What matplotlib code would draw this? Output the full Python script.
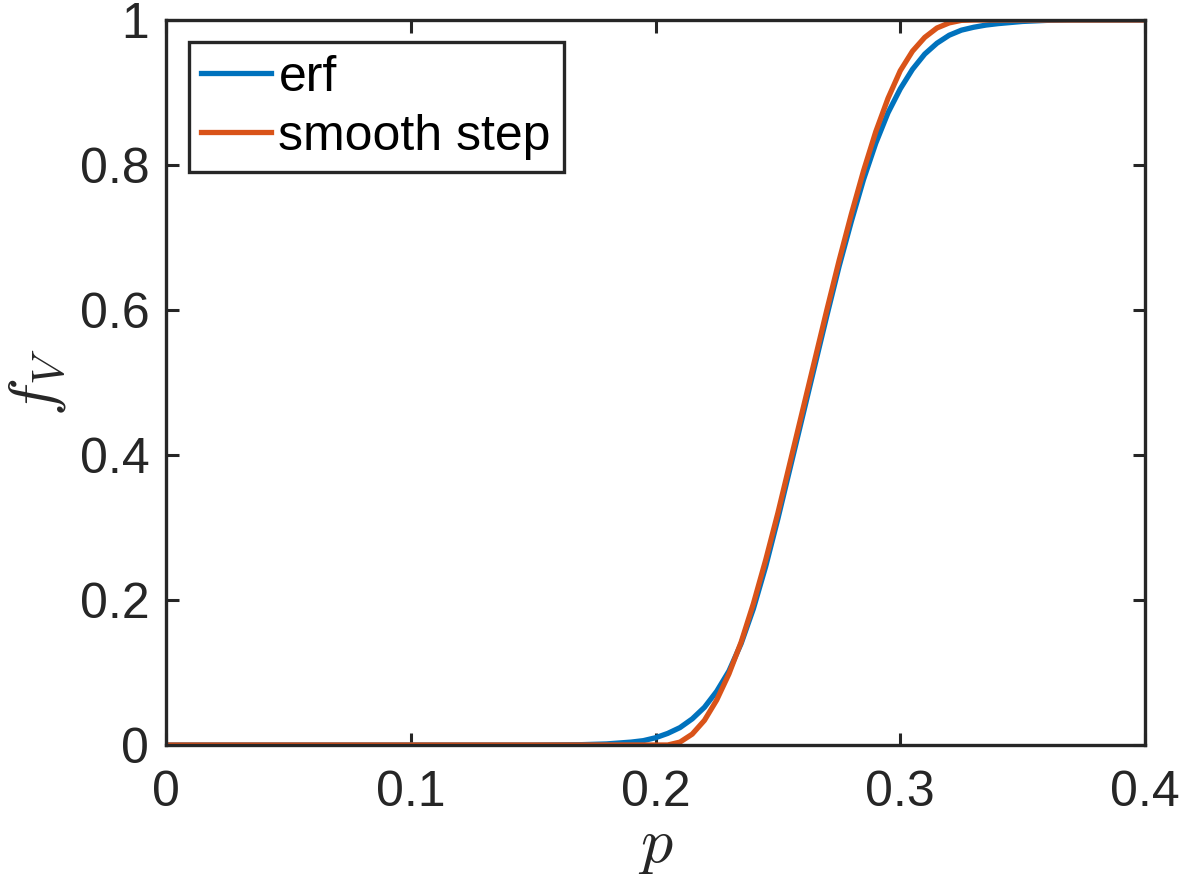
import matplotlib
matplotlib.use("Agg")
import matplotlib.pyplot as plt
from matplotlib.ticker import FuncFormatter

plt.rcParams['font.family'] = ['Liberation Sans', 'DejaVu Sans']
plt.rcParams['mathtext.fontset'] = 'cm'

# values
p_erf = [0.0, 0.15, 0.17, 0.18, 0.19, 0.195, 0.2, 0.205, 0.21, 0.215, 0.22, 0.225,
         0.23, 0.235, 0.24, 0.245, 0.25, 0.255, 0.26, 0.265, 0.27, 0.275, 0.28,
         0.285, 0.29, 0.295, 0.3, 0.305, 0.31, 0.315, 0.32, 0.325, 0.33, 0.335,
         0.34, 0.35, 0.36, 0.37, 0.4]
f_erf = [0.0, 0.0, 0.0005, 0.0015, 0.004, 0.006, 0.010, 0.016, 0.024, 0.036, 0.052,
         0.074, 0.102, 0.140, 0.188, 0.246, 0.312, 0.382, 0.452, 0.522, 0.592,
         0.660, 0.722, 0.780, 0.830, 0.872, 0.905, 0.932, 0.953, 0.968, 0.979,
         0.986, 0.990, 0.993, 0.995, 0.998, 0.9995, 1.0, 1.0]

p_step = [0.0, 0.205, 0.21, 0.215, 0.22, 0.225, 0.23, 0.235, 0.24, 0.245, 0.25,
          0.255, 0.26, 0.265, 0.27, 0.275, 0.28, 0.285, 0.29, 0.295, 0.3, 0.305,
          0.31, 0.315, 0.32, 0.325, 0.33, 0.4]
f_step = [0.0, 0.0, 0.004, 0.015, 0.034, 0.062, 0.098, 0.142, 0.195, 0.255, 0.320,
          0.390, 0.460, 0.530, 0.600, 0.668, 0.732, 0.792, 0.846, 0.892, 0.930,
          0.957, 0.976, 0.989, 0.996, 0.9995, 1.0, 1.0]

xticks = [0, 0.1, 0.2, 0.3, 0.4]
yticks = [0, 0.2, 0.4, 0.6, 0.8, 1]

dark = '#262626'

fig = plt.figure(figsize=(11.81, 8.96), dpi=100)
ax = fig.add_axes([166/1181, 1-745/896, (1145-166)/1181, (745-20)/896])

ax.plot(p_erf, f_erf, color='#0072BD', lw=3.8, label='erf')
ax.plot(p_step, f_step, color='#D95319', lw=3.8, label='smooth step')

ax.set_xlim(0, 0.4)
ax.set_ylim(0, 1)
ax.set_xticks(xticks)
ax.set_yticks(yticks)
fmt = FuncFormatter(lambda v, pos: '%g' % v)
ax.xaxis.set_major_formatter(fmt)
ax.yaxis.set_major_formatter(fmt)
ax.tick_params(direction='in', length=9, width=2.2, colors=dark, labelsize=36,
               top=True, right=True, pad=12)
ax.tick_params(axis='x', pad=18)
for s in ax.spines.values():
    s.set_linewidth(2.4)
    s.set_color(dark)

ax.set_xlabel('$p$', fontsize=46, color=dark, labelpad=0)
ax.set_ylabel('$f_V$', fontsize=46, color=dark, labelpad=8)

leg = ax.legend(loc='upper left', fontsize=36, handlelength=1.4, handletextpad=0.15,
                borderaxespad=0.45, borderpad=0.25, labelspacing=0.25,
                fancybox=False, framealpha=1)
leg.get_frame().set_edgecolor(dark)
leg.get_frame().set_linewidth(2.4)
for t in leg.get_texts():
    t.set_color('black')

fig.savefig('out.png', dpi=100)
